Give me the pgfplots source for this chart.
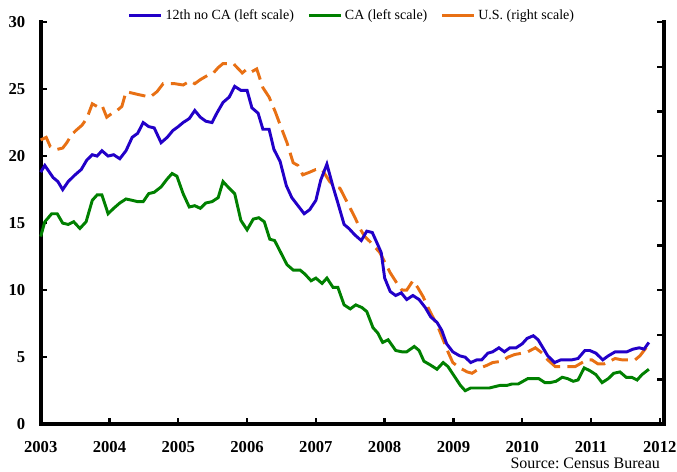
\documentclass[border=0pt]{standalone}
\usepackage{fontspec}
\setmainfont{Liberation Serif}
\usepackage{pgfplots}
\pgfplotsset{compat=1.18}
\definecolor{cblue}{RGB}{34,0,200}
\definecolor{cgreen}{RGB}{0,128,0}
\definecolor{corange}{RGB}{232,112,20}
\begin{document}
\begin{tikzpicture}
\useasboundingbox (-30.5pt,-35.25pt) rectangle (477pt,318pt);
\begin{axis}[
  at={(0pt,0pt)}, anchor=south west,
  scale only axis, width=467.25pt, height=301.5pt,
  xmin=2003, xmax=2012.06, ymin=0, ymax=30,
  axis x line*=bottom, axis y line*=left,
  axis line style={line width=2.8pt,-},
  xtick={2003,...,2012}, ytick={0,5,...,30},
  x tick label style={/pgf/number format/1000 sep={}},
  /pgf/number format/assume math mode=true,
  tick label style={font=\fontsize{12.5}{14}\selectfont\bfseries},
  major tick length=5pt, tick style={line width=1.8pt,black},
  tick align=inside,
  xticklabel style={yshift=-9pt},
  yticklabel style={xshift=-8pt},
  clip=false,
  legend style={draw=none, at={(0.5,1.0)}, anchor=south, yshift=-3.5pt,
    font=\fontsize{10.5}{12}\selectfont, legend columns=3,
    /tikz/every even column/.append style={column sep=8pt}},
  legend image code/.code={\draw[#1] (0pt,0pt) -- (24pt,0pt);},
]
\addlegendimage{cblue, line width=2.2pt}
\addlegendentry{12th no CA (left scale)}
\addlegendimage{cgreen, line width=2.2pt}
\addlegendentry{CA (left scale)}
\addlegendimage{corange, line width=2.2pt}
\addlegendentry{U.S. (right scale)}
\draw[black, line width=2.8pt, line cap=rect] (rel axis cs:0,1) -- (rel axis cs:0,0) -- (rel axis cs:1,0) -- (rel axis cs:1,1);
% U.S. (plotted in left-scale units)
\addplot[forget plot, corange, line width=2.2pt, dash pattern=on 12.5pt off 5.5pt] coordinates {
(2003.00,21.2)(2003.08,21.4)(2003.14,20.7)(2003.24,20.5)(2003.32,20.6)(2003.38,21.0)
(2003.45,21.6)(2003.51,21.9)(2003.60,22.3)(2003.67,22.8)(2003.75,23.9)(2003.82,23.7)
(2003.89,23.8)(2003.96,22.9)(2004.04,23.2)(2004.11,23.4)(2004.18,23.7)(2004.24,24.8)
(2004.33,24.7)(2004.41,24.6)(2004.50,24.5)(2004.59,24.4)(2004.69,24.8)(2004.78,25.4)
(2004.85,25.4)(2004.95,25.4)(2005.07,25.3)(2005.17,25.6)(2005.24,25.4)(2005.32,25.7)
(2005.42,26.0)(2005.51,26.2)(2005.58,26.6)(2005.65,26.9)(2005.80,26.9)(2005.93,26.2)
(2006.00,26.5)(2006.07,26.3)(2006.14,26.5)(2006.23,25.1)(2006.32,24.4)(2006.41,23.3)
(2006.49,22.2)(2006.58,21.0)(2006.67,19.5)(2006.74,19.3)(2006.81,18.6)(2006.91,18.8)
(2007.00,19.0)(2007.09,19.0)(2007.20,18.1)(2007.28,17.7)(2007.35,17.6)(2007.42,16.9)
(2007.50,16.1)(2007.57,15.4)(2007.64,14.6)(2007.71,14.0)(2007.79,13.6)(2007.86,13.2)
(2007.93,12.8)(2008.00,12.1)(2008.08,11.3)(2008.18,10.5)(2008.25,10.0)(2008.32,10.0)
(2008.41,10.7)(2008.48,10.2)(2008.56,9.5)(2008.63,8.7)(2008.70,8.0)(2008.78,7.2)
(2008.85,6.3)(2008.92,5.4)(2008.99,4.6)(2009.09,4.2)(2009.20,3.9)(2009.27,3.8)
(2009.39,4.2)(2009.49,4.4)(2009.57,4.6)(2009.71,4.7)(2009.79,5.0)(2009.89,5.2)
(2010.00,5.3)(2010.08,5.4)(2010.19,5.7)(2010.29,5.3)(2010.37,4.8)(2010.48,4.3)
(2010.58,4.3)(2010.67,4.3)(2010.77,4.3)(2010.87,4.6)(2010.94,4.8)(2011.01,4.8)
(2011.10,4.5)(2011.19,4.5)(2011.27,4.7)(2011.35,4.9)(2011.45,4.8)(2011.54,4.8)
(2011.64,4.8)(2011.71,5.1)(2011.83,5.9)
};
% CA
\addplot[forget plot, cgreen, line width=2.2pt] coordinates {
(2003.00,14.0)(2003.06,15.1)(2003.16,15.7)(2003.24,15.7)(2003.32,15.0)(2003.40,14.9)
(2003.48,15.1)(2003.57,14.6)(2003.66,15.1)(2003.75,16.7)(2003.82,17.1)(2003.89,17.1)
(2003.98,15.7)(2004.06,16.1)(2004.15,16.5)(2004.24,16.8)(2004.33,16.7)(2004.41,16.6)
(2004.49,16.6)(2004.57,17.2)(2004.65,17.3)(2004.75,17.7)(2004.84,18.3)(2004.91,18.7)
(2004.98,18.5)(2005.07,17.2)(2005.16,16.2)(2005.24,16.3)(2005.32,16.1)(2005.40,16.5)
(2005.49,16.6)(2005.58,16.9)(2005.65,18.1)(2005.74,17.6)(2005.82,17.2)(2005.91,15.2)
(2006.00,14.5)(2006.09,15.3)(2006.17,15.4)(2006.25,15.1)(2006.33,13.8)(2006.40,13.7)
(2006.49,12.8)(2006.58,11.9)(2006.67,11.5)(2006.77,11.5)(2006.84,11.2)(2006.93,10.7)
(2007.00,10.9)(2007.09,10.5)(2007.16,10.9)(2007.25,10.2)(2007.32,10.2)(2007.41,8.9)
(2007.50,8.6)(2007.58,8.9)(2007.67,8.7)(2007.74,8.4)(2007.83,7.2)(2007.90,6.8)
(2007.97,6.1)(2008.05,6.3)(2008.16,5.5)(2008.25,5.4)(2008.32,5.4)(2008.43,5.8)
(2008.50,5.5)(2008.57,4.7)(2008.67,4.4)(2008.76,4.1)(2008.85,4.6)(2008.92,4.3)
(2009.01,3.6)(2009.10,2.9)(2009.17,2.5)(2009.25,2.7)(2009.34,2.7)(2009.43,2.7)
(2009.52,2.7)(2009.60,2.8)(2009.68,2.9)(2009.78,2.9)(2009.85,3.0)(2009.94,3.0)
(2010.01,3.2)(2010.08,3.4)(2010.17,3.4)(2010.24,3.4)(2010.33,3.1)(2010.40,3.1)
(2010.49,3.2)(2010.58,3.5)(2010.66,3.4)(2010.74,3.2)(2010.81,3.3)(2010.90,4.2)
(2010.98,4.0)(2011.07,3.7)(2011.16,3.1)(2011.25,3.4)(2011.33,3.8)(2011.42,3.9)
(2011.51,3.5)(2011.59,3.5)(2011.67,3.3)(2011.74,3.7)(2011.84,4.1)
};
% 12th no CA
\addplot[forget plot, cblue, line width=2.2pt] coordinates {
(2003.00,18.8)(2003.06,19.3)(2003.18,18.4)(2003.25,18.1)(2003.32,17.5)(2003.40,18.1)
(2003.50,18.6)(2003.59,19.0)(2003.67,19.7)(2003.75,20.1)(2003.82,20.0)(2003.89,20.4)
(2003.98,20.0)(2004.06,20.1)(2004.15,19.8)(2004.24,20.4)(2004.33,21.4)(2004.41,21.7)
(2004.49,22.5)(2004.57,22.2)(2004.65,22.1)(2004.75,21.0)(2004.84,21.4)(2004.92,21.9)
(2005.00,22.2)(2005.07,22.5)(2005.16,22.8)(2005.24,23.4)(2005.32,22.9)(2005.40,22.6)
(2005.49,22.5)(2005.56,23.2)(2005.65,24.0)(2005.74,24.4)(2005.82,25.2)(2005.91,24.9)
(2006.00,24.9)(2006.07,23.6)(2006.16,23.2)(2006.23,22.0)(2006.32,22.0)(2006.39,20.5)
(2006.48,19.6)(2006.57,17.8)(2006.65,16.9)(2006.74,16.3)(2006.83,15.7)(2006.91,16.0)
(2007.00,16.7)(2007.07,18.2)(2007.16,19.4)(2007.25,17.7)(2007.32,16.5)(2007.41,14.9)
(2007.48,14.6)(2007.57,14.1)(2007.66,13.7)(2007.74,14.4)(2007.82,14.3)(2007.89,13.5)
(2007.95,12.8)(2008.00,10.9)(2008.08,9.9)(2008.16,9.6)(2008.24,9.8)(2008.32,9.3)
(2008.41,9.6)(2008.50,9.3)(2008.59,8.7)(2008.67,8.0)(2008.76,7.6)(2008.83,7.0)
(2008.90,6.0)(2008.99,5.4)(2009.09,5.1)(2009.17,5.0)(2009.25,4.6)(2009.34,4.8)
(2009.41,4.8)(2009.50,5.3)(2009.57,5.4)(2009.66,5.7)(2009.74,5.4)(2009.82,5.7)
(2009.91,5.7)(2010.00,6.0)(2010.07,6.4)(2010.16,6.6)(2010.23,6.3)(2010.30,5.7)
(2010.37,5.1)(2010.47,4.6)(2010.56,4.8)(2010.65,4.8)(2010.72,4.8)(2010.81,4.9)
(2010.91,5.5)(2010.98,5.5)(2011.07,5.3)(2011.17,4.8)(2011.25,5.1)(2011.35,5.4)
(2011.45,5.4)(2011.52,5.4)(2011.61,5.6)(2011.70,5.7)(2011.77,5.6)(2011.84,6.1)
};
\node[anchor=base east, font=\fontsize{12}{14}\selectfont] at (rel axis cs:1,0) [xshift=0.5pt, yshift=-33pt] {Source:\ Census\ Bureau};
\end{axis}
\begin{axis}[
  at={(0pt,0pt)}, anchor=south west,
  scale only axis, width=467.25pt, height=301.5pt,
  xmin=2003, xmax=2012.06, ymin=0, ymax=9,
  axis x line=none, axis y line*=right,
  axis line style={line width=2.8pt,-},
  ytick={0,...,9}, yticklabels={},
  major tick length=5pt, tick style={line width=1.8pt,black},
  tick align=inside,
]
\end{axis}
\end{tikzpicture}
\end{document}
